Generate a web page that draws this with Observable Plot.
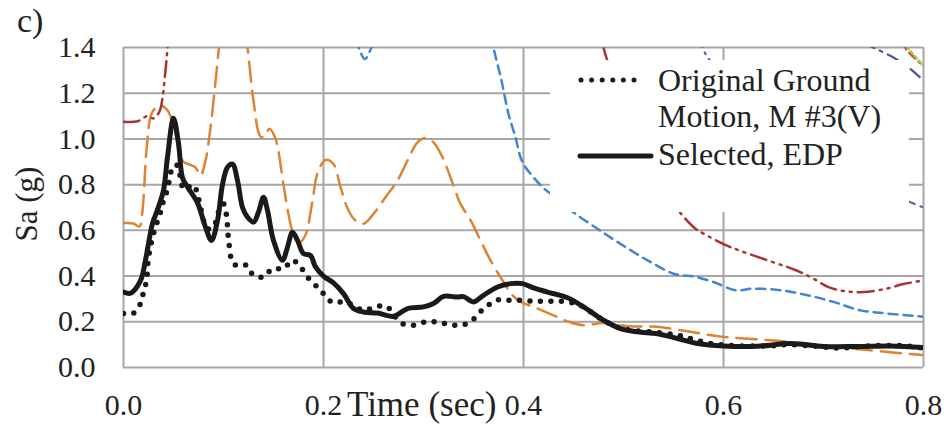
<!DOCTYPE html>
<html>
<head>
<meta charset="utf-8">
<script src="https://cdn.jsdelivr.net/npm/d3@7"></script>
<script src="https://cdn.jsdelivr.net/npm/@observablehq/plot@0.6"></script>
<style>
  html, body { margin: 0; padding: 0; background: #fff; }
  #wrap { position: relative; width: 947px; height: 440px; font-family: "Liberation Serif", serif; }
  #overlay { position: absolute; left: 0; top: 0; pointer-events: none; }
  #wrap svg text { font-family: "Liberation Serif", serif !important; }
</style>
</head>
<body>
<div id="wrap"></div>
<script>
// Axis ticks
const xTicks = [0, 0.2, 0.4, 0.6, 0.8];
const yTicks = [0, 0.2, 0.4, 0.6, 0.8, 1.0, 1.2, 1.4];

// Selected, EDP (response spectrum, g)
const selT = [0, 0.007, 0.017, 0.022, 0.029, 0.034, 0.040, 0.044, 0.050, 0.055, 0.059, 0.064, 0.074, 0.082, 0.088, 0.094, 0.099, 0.104, 0.109, 0.114, 0.119, 0.124, 0.130, 0.135, 0.140, 0.144, 0.150, 0.159, 0.164, 0.169, 0.174, 0.180, 0.187, 0.192, 0.200, 0.210, 0.220, 0.230, 0.240, 0.254, 0.270, 0.284, 0.300, 0.310, 0.320, 0.334, 0.340, 0.350, 0.360, 0.374, 0.387, 0.399, 0.410, 0.424, 0.444, 0.460, 0.480, 0.497, 0.514, 0.534, 0.554, 0.574, 0.600, 0.634, 0.667, 0.700, 0.734, 0.767, 0.800];
const selSa = [0.33, 0.325, 0.38, 0.47, 0.63, 0.69, 0.775, 0.92, 1.09, 0.98, 0.83, 0.79, 0.72, 0.614, 0.556, 0.643, 0.80, 0.876, 0.89, 0.818, 0.70, 0.658, 0.636, 0.68, 0.745, 0.687, 0.556, 0.469, 0.527, 0.592, 0.556, 0.498, 0.49, 0.44, 0.40, 0.37, 0.323, 0.258, 0.243, 0.238, 0.224, 0.258, 0.265, 0.28, 0.311, 0.308, 0.31, 0.287, 0.316, 0.352, 0.367, 0.367, 0.348, 0.33, 0.305, 0.265, 0.207, 0.17, 0.156, 0.148, 0.127, 0.105, 0.094, 0.093, 0.105, 0.092, 0.092, 0.094, 0.087];

// Original Ground Motion, M #3(V)
const origT = [0, 0.010, 0.017, 0.020, 0.023, 0.025, 0.030, 0.037, 0.040, 0.044, 0.047, 0.050, 0.054, 0.057, 0.060, 0.064, 0.069, 0.073, 0.077, 0.084, 0.090, 0.095, 0.100, 0.103, 0.105, 0.109, 0.114, 0.123, 0.130, 0.140, 0.149, 0.160, 0.169, 0.177, 0.184, 0.192, 0.200, 0.209, 0.220, 0.230, 0.240, 0.252, 0.263, 0.272, 0.279, 0.290, 0.302, 0.314, 0.325, 0.336, 0.347, 0.355, 0.364, 0.374, 0.385, 0.397, 0.409, 0.420, 0.432, 0.444, 0.457, 0.477, 0.495, 0.507, 0.530, 0.554, 0.567, 0.587, 0.614, 0.647, 0.667, 0.694, 0.714, 0.747, 0.780, 0.800];
const origSa = [0.236, 0.238, 0.28, 0.33, 0.38, 0.48, 0.585, 0.68, 0.73, 0.78, 0.85, 0.883, 0.883, 0.83, 0.78, 0.785, 0.80, 0.775, 0.70, 0.607, 0.615, 0.68, 0.716, 0.665, 0.563, 0.461, 0.444, 0.447, 0.403, 0.396, 0.432, 0.432, 0.469, 0.44, 0.396, 0.36, 0.323, 0.284, 0.287, 0.272, 0.25, 0.265, 0.268, 0.22, 0.192, 0.185, 0.199, 0.199, 0.188, 0.185, 0.199, 0.236, 0.27, 0.296, 0.294, 0.294, 0.29, 0.29, 0.29, 0.287, 0.272, 0.214, 0.175, 0.163, 0.155, 0.141, 0.127, 0.105, 0.095, 0.095, 0.10, 0.092, 0.085, 0.095, 0.095, 0.085];

// Other candidate motions (background spectra)
const orangeT = [0, 0.010, 0.016, 0.019, 0.023, 0.028, 0.033, 0.038, 0.043, 0.047, 0.054, 0.060, 0.065, 0.072, 0.077, 0.082, 0.087, 0.092, 0.096, 0.100, 0.110, 0.118, 0.124, 0.130, 0.137, 0.141, 0.146, 0.152, 0.160, 0.165, 0.170, 0.176, 0.182, 0.189, 0.194, 0.202, 0.210, 0.217, 0.225, 0.232, 0.240, 0.250, 0.262, 0.274, 0.284, 0.294, 0.302, 0.310, 0.319, 0.327, 0.337, 0.347, 0.357, 0.367, 0.379, 0.389, 0.397, 0.410, 0.430, 0.445, 0.460, 0.480, 0.507, 0.534, 0.567, 0.600, 0.647, 0.700, 0.747, 0.800];
const orangeSa = [0.632, 0.63, 0.617, 0.687, 0.95, 1.11, 1.138, 1.145, 1.13, 1.10, 0.99, 0.90, 0.89, 0.875, 0.84, 0.905, 1.05, 1.25, 1.42, 1.55, 1.65, 1.58, 1.40, 1.167, 1.01, 1.01, 1.045, 1.0, 0.80, 0.67, 0.585, 0.548, 0.58, 0.73, 0.85, 0.908, 0.89, 0.789, 0.687, 0.643, 0.629, 0.672, 0.745, 0.818, 0.905, 0.985, 1.004, 0.985, 0.92, 0.832, 0.716, 0.645, 0.556, 0.469, 0.381, 0.316, 0.287, 0.265, 0.228, 0.20, 0.185, 0.195, 0.18, 0.178, 0.156, 0.134, 0.119, 0.097, 0.075, 0.054];

const blueT = [0.200, 0.232, 0.236, 0.2415, 0.247, 0.252, 0.260, 0.360, 0.366, 0.370, 0.378, 0.385, 0.392, 0.397, 0.402, 0.410, 0.419, 0.427, 0.440, 0.452, 0.474, 0.497, 0.524, 0.550, 0.560, 0.570, 0.590, 0.612, 0.630, 0.657, 0.684, 0.710, 0.737, 0.764, 0.800];
const blueSa = [1.8, 1.46, 1.39, 1.35, 1.39, 1.46, 1.8, 1.8, 1.5, 1.40, 1.255, 1.109, 1.007, 0.92, 0.876, 0.832, 0.789, 0.76, 0.715, 0.672, 0.607, 0.541, 0.469, 0.41, 0.403, 0.399, 0.374, 0.338, 0.345, 0.338, 0.316, 0.287, 0.25, 0.236, 0.222];

const darkRedT = [0, 0.014, 0.024, 0.030, 0.036, 0.039, 0.042, 0.044, 0.047, 0.050, 0.470, 0.476, 0.480, 0.484, 0.500, 0.520, 0.540, 0.559, 0.572, 0.580, 0.600, 0.617, 0.650, 0.670, 0.687, 0.705, 0.720, 0.740, 0.763, 0.780, 0.800];
const darkRedSa = [1.075, 1.077, 1.10, 1.09, 1.12, 1.18, 1.30, 1.40, 1.6, 1.8, 1.8, 1.5, 1.40, 1.34, 1.14, 0.94, 0.78, 0.665, 0.607, 0.586, 0.54, 0.51, 0.46, 0.43, 0.396, 0.352, 0.335, 0.33, 0.345, 0.365, 0.381];

const purpleT = [0.570, 0.579, 0.587, 0.620, 0.660, 0.700, 0.750, 0.787, 0.800];
const purpleSa = [1.6, 1.40, 1.34, 1.16, 1.01, 0.895, 0.795, 0.723, 0.700];

const violetT = [0.740, 0.753, 0.770, 0.787, 0.800];
const violetSa = [1.42, 1.393, 1.356, 1.306, 1.255];

const redT = [0.775, 0.784, 0.792, 0.800];
const redSa = [1.45, 1.386, 1.35, 1.32];

const greenT = [0.778, 0.784, 0.800];
const greenSa = [1.45, 1.40, 1.32];

const toRows = (t, s) => t.map((v, i) => ({t: v, sa: s[i]}));

const bg = [
  {rows: toRows(orangeT, orangeSa), stroke: "#dc8434", dash: "20,9", width: 2.5},
  {rows: toRows(blueT, blueSa), stroke: "#4285cc", dash: "9,6", width: 2.5},
  {rows: toRows(darkRedT, darkRedSa), stroke: "#a93430", dash: "16,6,2,6,2,6", width: 2.5},
  {rows: toRows(purpleT, purpleSa), stroke: "#7c54a8", dash: "16,6,2,6", width: 2.2},
  {rows: toRows(violetT, violetSa), stroke: "#6a4a9c", dash: "12,6,3,6", width: 2.2},
  {rows: toRows(redT, redSa), stroke: "#d8443a", dash: "8,5,2,5", width: 2.5},
  {rows: toRows(greenT, greenSa), stroke: "#9cc84a", dash: "3,3", width: 2.5}
];

const grid = {stroke: "#a6a6a6", strokeOpacity: 1, strokeWidth: 2};
const fmt = d => d.toFixed(1);
const serif = "Liberation Serif";

const chart = Plot.plot({
  width: 947,
  height: 440,
  marginLeft: 123,
  marginRight: 24,
  marginTop: 47,
  marginBottom: 73,
  style: {fontFamily: serif, fontSize: "30px", color: "#222", background: "transparent", overflow: "visible"},
  x: {domain: [0, 0.8]},
  y: {domain: [0, 1.4]},
  marks: [
    Plot.gridX(xTicks, grid),
    Plot.gridY(yTicks, grid),
    ...bg.map(s => Plot.line(s.rows, {x: "t", y: "sa", stroke: s.stroke, strokeWidth: s.width, strokeDasharray: s.dash, curve: "catmull-rom", clip: true})),
    Plot.line(toRows(origT, origSa), {x: "t", y: "sa", stroke: "#1a1a1a", strokeWidth: 5.5, strokeDasharray: "0,10.5", strokeLinecap: "round", curve: "catmull-rom", clip: true}),
    Plot.line(toRows(selT, selSa), {x: "t", y: "sa", stroke: "#1a1a1a", strokeWidth: 5, curve: "catmull-rom", clip: true}),
    Plot.axisX(xTicks, {tickSize: 0, tickPadding: 26, tickFormat: fmt, fontSize: 30, label: null}),
    Plot.axisY(yTicks, {tickSize: 0, tickPadding: 28, tickFormat: fmt, fontSize: 30, label: null})
  ]
});

const wrap = document.getElementById("wrap");
wrap.appendChild(chart);
chart.setAttribute("font-family", serif);
chart.querySelectorAll("text").forEach(t => t.setAttribute("font-family", serif));

// Titles and legend on top of the plot
const ov = d3.create("svg")
  .attr("id", "overlay")
  .attr("width", 947).attr("height", 440)
  .attr("font-family", serif)
  .attr("fill", "#222");

ov.append("text").attr("x", 17).attr("y", 32).attr("font-size", 34).attr("font-family", serif).text("c)");
ov.append("text")
  .attr("transform", "translate(37,204) rotate(-90)")
  .attr("text-anchor", "middle").attr("font-size", 31).attr("font-family", serif).text("Sa (g)");
ov.append("text").attr("x", 347).attr("y", 416).attr("font-size", 35).attr("font-family", serif).text("Time (sec)");

const lg = ov.append("g").attr("transform", "translate(550,60)");
lg.append("rect").attr("width", 359).attr("height", 152).attr("fill", "#fff");
lg.append("line").attr("x1", 31).attr("x2", 93).attr("y1", 20).attr("y2", 20)
  .attr("stroke", "#1a1a1a").attr("stroke-width", 5).attr("stroke-linecap", "round").attr("stroke-dasharray", "0,10.6");
lg.append("line").attr("x1", 30).attr("x2", 101).attr("y1", 96).attr("y2", 96)
  .attr("stroke", "#1a1a1a").attr("stroke-width", 5).attr("stroke-linecap", "round");
const legendLines = [["Original Ground", 30.7], ["Motion, M #3(V)", 66.7], ["Selected, EDP", 105]];
legendLines.forEach(([txt, y]) => lg.append("text").attr("x", 108).attr("y", y).attr("font-size", 32).attr("font-family", serif).text(txt));

wrap.appendChild(ov.node());
</script>
</body>
</html>
